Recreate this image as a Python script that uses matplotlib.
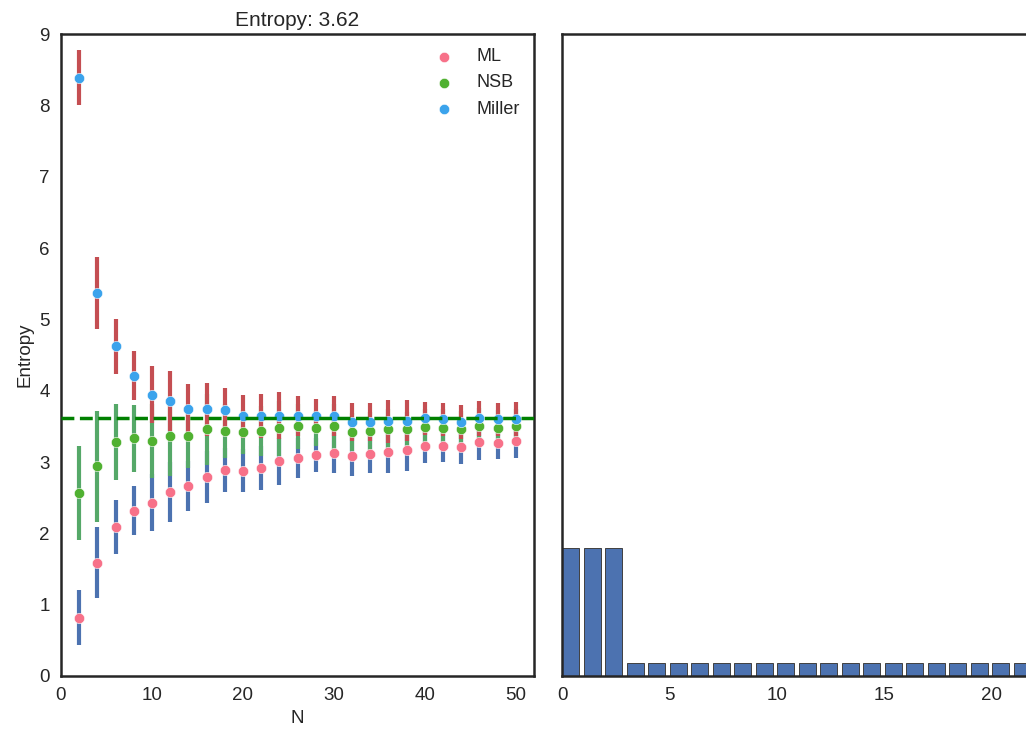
import matplotlib
matplotlib.use('Agg')
import matplotlib.pyplot as plt
import seaborn as sns

# sample sizes
n_samples = [2, 4, 6, 8, 10, 12, 14, 16, 18, 20, 22, 24, 26,
             28, 30, 32, 34, 36, 38, 40, 42, 44, 46, 48, 50]

# estimator means
ml_mean = [0.82, 1.59, 2.09, 2.32, 2.43, 2.58, 2.66, 2.79, 2.89, 2.88, 2.92, 3.01, 3.06,
           3.10, 3.12, 3.08, 3.11, 3.14, 3.17, 3.22, 3.23, 3.21, 3.28, 3.27, 3.29]
miller_mean = [8.39, 5.37, 4.62, 4.21, 3.94, 3.85, 3.74, 3.74, 3.73, 3.64, 3.64, 3.65, 3.65,
               3.65, 3.65, 3.56, 3.56, 3.57, 3.58, 3.61, 3.60, 3.56, 3.61, 3.60, 3.60]
nsb_mean = [2.57, 2.94, 3.28, 3.33, 3.29, 3.36, 3.36, 3.46, 3.43, 3.42, 3.44, 3.47, 3.50,
            3.47, 3.50, 3.42, 3.43, 3.46, 3.46, 3.49, 3.48, 3.46, 3.50, 3.48, 3.50]

# std (ML and Miller share the same spread)
ml_std = [0.39, 0.50, 0.38, 0.34, 0.40, 0.42, 0.35, 0.37, 0.31, 0.30, 0.31, 0.33, 0.28,
          0.24, 0.28, 0.27, 0.27, 0.30, 0.29, 0.23, 0.23, 0.24, 0.25, 0.23, 0.24]
nsb_std = [0.66, 0.78, 0.53, 0.47, 0.52, 0.55, 0.44, 0.50, 0.38, 0.31, 0.35, 0.39, 0.32,
           0.25, 0.32, 0.27, 0.27, 0.28, 0.24, 0.25, 0.27, 0.26, 0.26, 0.25, 0.25]

true_entropy = 3.62

# distribution shown on the right
bins = list(range(22))
probs = [0.2, 0.2, 0.2, 0.021, 0.021, 0.021, 0.021, 0.021, 0.021, 0.021, 0.021,
         0.021, 0.021, 0.021, 0.021, 0.021, 0.021, 0.021, 0.021, 0.021, 0.021, 0.021]

sns.set_style('white')
plt.rcParams['font.family'] = ['Liberation Sans', 'DejaVu Sans']
plt.rcParams['axes.edgecolor'] = '.15'
plt.rcParams['axes.linewidth'] = 1.8

deep = sns.color_palette('deep')
err_ml, err_nsb, err_miller = '#4C72B0', '#55A868', '#C44E52'
dot_ml, dot_nsb, dot_miller = sns.color_palette('husl', 3)

fig = plt.figure(figsize=(10.26, 7.31), dpi=100)
ax1 = fig.add_axes([61 / 1026, 55 / 731, 473 / 1026, 642 / 731])
ax2 = fig.add_axes([562 / 1026, 55 / 731, 473 / 1026, 642 / 731])

# error bars
ax1.errorbar(n_samples, ml_mean, yerr=ml_std, fmt='none', ecolor=err_ml, elinewidth=3, capsize=0)
ax1.errorbar(n_samples, nsb_mean, yerr=nsb_std, fmt='none', ecolor=err_nsb, elinewidth=3, capsize=0)
ax1.errorbar(n_samples, miller_mean, yerr=ml_std, fmt='none', ecolor=err_miller, elinewidth=3, capsize=0)

ax1.scatter(n_samples, ml_mean, s=55, color=dot_ml, label='ML', zorder=3, edgecolors='w', linewidths=0.4)
ax1.scatter(n_samples, nsb_mean, s=55, color=dot_nsb, label='NSB', zorder=3, edgecolors='w', linewidths=0.4)
ax1.scatter(n_samples, miller_mean, s=55, color=dot_miller, label='Miller', zorder=3, edgecolors='w', linewidths=0.4)

ax1.axhline(true_entropy, color='g', ls='--', lw=2.5, zorder=4)

ax1.set_xlim(0, 52)
ax1.set_ylim(0, 9)
ax1.set_xticks([0, 10, 20, 30, 40, 50])
ax1.tick_params(labelsize=13.5, length=0, pad=8)
ax1.set_xlabel('N', fontsize=13.5)
ax1.set_ylabel('Entropy', fontsize=13.5)
ax1.set_title('Entropy: {:.2f}'.format(true_entropy), fontsize=15)
ax1.legend(loc='upper right', frameon=False, scatterpoints=1, fontsize=13,
           handletextpad=0.8, borderaxespad=0.4)

# histogram of the distribution
ax2.bar(bins, probs, width=0.8, align='edge', color=deep[0], edgecolor='.25', linewidth=0.7)
ax2.set_xlim(0, 22)
ax2.set_ylim(0, 1)
ax2.set_xticks([0, 5, 10, 15, 20])
ax2.set_yticks([])
ax2.tick_params(labelsize=13.5, length=0, pad=8)

fig.savefig('out.png', dpi=100)
